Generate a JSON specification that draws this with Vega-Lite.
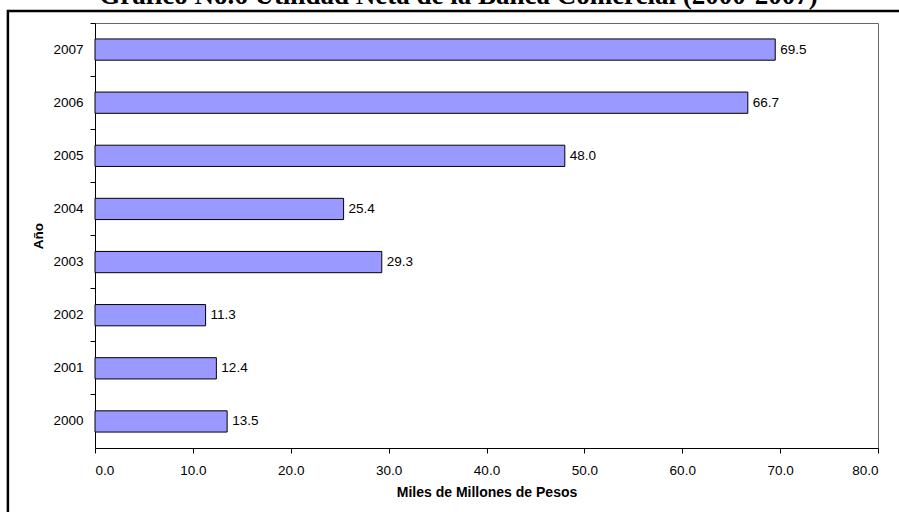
{
  "$schema": "https://vega.github.io/schema/vega-lite/v6.json",
  "width": 783,
  "height": 425,
  "autosize": {"type": "none"},
  "padding": {"left": 95, "top": 23, "right": 21, "bottom": 64},
  "background": "white",
  "title": {
    "text": "Gráfico No.6 Utilidad Neta de la Banca Comercial (2000-2007)",
    "font": "Liberation Serif",
    "fontSize": 27,
    "fontWeight": "bold",
    "color": "black",
    "anchor": "middle",
    "dx": -28,
    "offset": 0
  },
  "config": {
    "view": {"stroke": "#666666", "strokeWidth": 1},
    "axis": {
      "labelFont": "Liberation Sans",
      "titleFont": "Liberation Sans",
      "labelColor": "black",
      "titleColor": "black",
      "domainColor": "black",
      "tickColor": "black",
      "grid": false,
      "labelFontSize": 13.5,
      "titleFontSize": 13.5,
      "titleFontWeight": "bold",
      "tickSize": 5,
      "domainWidth": 1,
      "tickWidth": 1
    }
  },
  "resolve": {"scale": {"x": "independent", "y": "independent"}, "axis": {"x": "independent", "y": "independent"}},
  "layer": [
    {
      "data": {"values": [{"frame": "outer"}]},
      "mark": {"type": "rect", "fillOpacity": 0, "stroke": "black", "strokeWidth": 2.5},
      "encoding": {
        "x": {"datum": -8.9, "type": "quantitative", "scale": {"domain": [0, 80]}, "axis": null},
        "x2": {"datum": 85},
        "y": {"datum": 1.028, "type": "quantitative", "scale": {"domain": [0, 1]}, "axis": null},
        "y2": {"datum": -0.3}
      }
    },
    {
      "data": {
        "values": [
          {"Año": "2000", "Utilidad": 13.5},
          {"Año": "2001", "Utilidad": 12.4},
          {"Año": "2002", "Utilidad": 11.3},
          {"Año": "2003", "Utilidad": 29.3},
          {"Año": "2004", "Utilidad": 25.4},
          {"Año": "2005", "Utilidad": 48.0},
          {"Año": "2006", "Utilidad": 66.7},
          {"Año": "2007", "Utilidad": 69.5}
        ]
      },
      "encoding": {
        "y": {
          "field": "Año",
          "type": "nominal",
          "sort": "descending",
          "scale": {"paddingInner": 0.6, "paddingOuter": 0.3},
          "axis": {"title": "Año", "bandPosition": -0.75, "labelPadding": 7, "titlePadding": 7, "titleFontSize": 13.5}
        },
        "x": {
          "field": "Utilidad",
          "type": "quantitative",
          "scale": {"domain": [0, 80], "nice": false},
          "axis": {
            "title": "Miles de Millones de Pesos",
            "values": [0, 10, 20, 30, 40, 50, 60, 70, 80],
            "format": ".1f",
            "labelPadding": 10,
            "titlePadding": 9,
            "titleFontSize": 14
          }
        }
      },
      "layer": [
        {"mark": {"type": "bar", "fill": "#9999FF", "stroke": "black", "strokeWidth": 1}},
        {
          "mark": {"type": "text", "align": "left", "baseline": "middle", "dx": 5, "font": "Liberation Sans", "fontSize": 13.5, "color": "black"},
          "encoding": {"text": {"field": "Utilidad", "type": "quantitative", "format": ".1f"}}
        }
      ]
    }
  ]
}
